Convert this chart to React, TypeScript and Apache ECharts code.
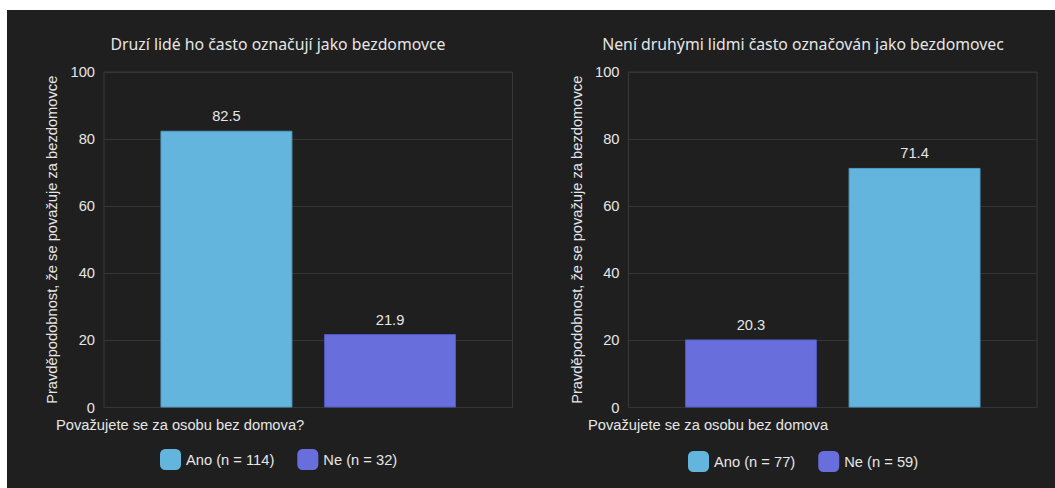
import React, { useEffect, useRef } from "react";
import * as echarts from "echarts";

const titles = [
  "Druzí lidé ho často označují jako bezdomovce",
  "Není druhými lidmi často označován jako bezdomovec",
];
const yAxisName = "Pravděpodobnost, že se považuje za bezdomovce";
const xAxisNames = ["Považujete se za osobu bez domova?", "Považujete se za osobu bez domova"];

// left chart: Ano, Ne
const leftSeriesNames = ["Ano (n = 114)", "Ne (n = 32)"];
const leftValues = [82.5, 21.9];
// right chart: bars drawn Ne then Ano, legend Ano then Ne
const rightSeriesNames = ["Ne (n = 59)", "Ano (n = 77)"];
const rightValues = [20.3, 71.4];
const rightLegend = ["Ano (n = 77)", "Ne (n = 59)"];

const ANO = "#64B5DD";
const NE = "#686FDC";
const TXT = "#e6e6e6";
const FONT = "'Liberation Sans', Arial, sans-serif";
const FS = 14.7;

export default function App() {
  const ref = useRef<HTMLDivElement>(null);
  useEffect(() => {
    document.body.style.margin = "0";
    const chart = echarts.init(ref.current!, null, { renderer: "svg" });
    const grids = [
      { left: 104, top: 72, width: 408.5, height: 335.5 },
      { left: 628.5, top: 72, width: 408.5, height: 335.5 },
    ];
    const yNameGaps = [45, 44];
    const xNameGaps = [48, 40.5];
    const mkBar = (name: string, v: number, color: string, border: string, idx: number) => ({
      type: "bar",
      name,
      xAxisIndex: idx,
      yAxisIndex: idx,
      data: [v],
      barWidth: "32.3%",
      barGap: "24%",
      itemStyle: { color, borderColor: border, borderWidth: 1 },
      label: {
        show: true,
        position: "top",
        distance: 7,
        color: TXT,
        fontFamily: FONT,
        fontSize: FS,
        formatter: (p: any) => String(p.value),
      },
    });
    const colorFor = (n: string) => (n.startsWith("Ano") ? ANO : NE);
    const borderFor = (n: string) => (n.startsWith("Ano") ? "#4f9cc2" : "#5258c0");
    chart.setOption({
      animation: false,
      backgroundColor: "transparent",
      title: [
        { text: titles[0], left: 273, top: 31, textAlign: "center" },
        { text: titles[1], left: 798, top: 31, textAlign: "center" },
      ].map((t) => ({
        ...t,
        textStyle: { color: TXT, fontFamily: "'Noto Sans', 'Open Sans', sans-serif", fontSize: 15.8, fontWeight: "normal" },
      })),
      legend: [
        { data: leftSeriesNames, left: 155, top: 444 },
        { data: rightLegend, left: 683, top: 446 },
      ].map((l) => ({
        ...l,
        icon: "roundRect",
        itemWidth: 21,
        itemHeight: 21,
        itemGap: 23,
        itemStyle: { borderWidth: 0 },
        textStyle: { color: TXT, fontFamily: FONT, fontSize: FS },
      })),
      grid: grids.map((g) => ({ ...g, show: true, borderColor: "#383838", borderWidth: 1 })),
      xAxis: [0, 1].map((i) => ({
        type: "category",
        gridIndex: i,
        data: [xAxisNames[i]],
        axisLabel: { show: false },
        axisTick: { show: false },
        axisLine: { show: false },
        name: xAxisNames[i],
        nameLocation: "start",
        nameGap: xNameGaps[i],
        nameTextStyle: {
          color: TXT,
          fontFamily: FONT,
          fontSize: FS,
          align: "left",
          verticalAlign: "top",
          padding: [10, 0, 0, 0],
        },
      })),
      yAxis: [0, 1].map((i) => ({
        type: "value",
        gridIndex: i,
        min: 0,
        max: 100,
        interval: 20,
        axisLine: { show: false },
        axisTick: { show: false },
        splitLine: { lineStyle: { color: "#353535", width: 1 } },
        axisLabel: { color: TXT, fontFamily: FONT, fontSize: FS, margin: 9 },
        name: yAxisName,
        nameLocation: "middle",
        nameGap: yNameGaps[i],
        nameTextStyle: { color: TXT, fontFamily: FONT, fontSize: FS },
      })),
      series: [
        ...leftSeriesNames.map((n, k) => mkBar(n, leftValues[k], colorFor(n), borderFor(n), 0)),
        ...rightSeriesNames.map((n, k) => mkBar(n, rightValues[k], colorFor(n), borderFor(n), 1)),
      ],
    });
    return () => chart.dispose();
  }, []);
  return (
    <div style={{ position: "fixed", left: 0, top: 0, width: 1055, height: 488, background: "#ffffff" }}>
      <div
        style={{ position: "absolute", left: 7, top: 10, width: 1048, height: 478, background: "#1f1f1f" }}
      />
      <div ref={ref} style={{ position: "absolute", left: 0, top: 0, width: 1055, height: 488 }} />
    </div>
  );
}
